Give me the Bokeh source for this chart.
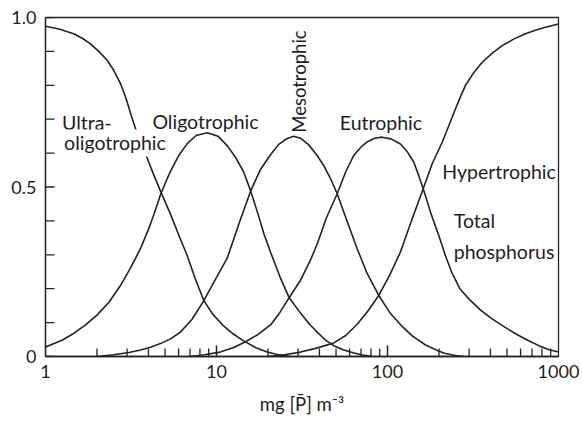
from bokeh.plotting import figure
from bokeh.models import FixedTicker, Label, Range1d, CustomJSTickFormatter
from bokeh.embed import file_html
from bokeh.resources import INLINE

# Total phosphorus (mg m-3) and the probability of each trophic category
ultra_x = [1, 1.2, 1.46, 1.65, 1.83, 2.05, 2.3, 2.5, 2.75, 2.95, 3.14, 3.4, 3.65, 3.9, 4.3, 4.71,
           5.38, 6.0, 6.74, 7.5, 8.43, 9.5, 11.0, 12.5, 14.4, 17.0, 19.8, 23.0, 27.0]
ultra_y = [0.974, 0.966, 0.952, 0.938, 0.922, 0.900, 0.873, 0.845, 0.804, 0.763, 0.718, 0.664, 0.628, 0.590, 0.535, 0.487,
           0.420, 0.360, 0.298, 0.230, 0.165, 0.125, 0.090, 0.067, 0.046, 0.026, 0.013, 0.005, 0.0]

oligo_x = [1, 1.25, 1.46, 1.7, 2.0, 2.35, 2.75, 3.15, 3.59, 4.0, 4.3, 4.71, 5.1, 5.38, 6.0, 6.74, 7.6,
           8.83, 10.2, 11.55, 12.9, 14.4, 15.8, 17.5, 19.0, 20.7, 23.5, 26.5, 31, 35, 38.8, 43, 48.5,
           55, 60.8, 70, 82]
oligo_y = [0.028, 0.048, 0.068, 0.092, 0.122, 0.160, 0.210, 0.262, 0.318, 0.375, 0.418, 0.478, 0.520, 0.546, 0.592, 0.628, 0.652,
           0.660, 0.650, 0.622, 0.588, 0.545, 0.490, 0.420, 0.360, 0.308, 0.235, 0.175, 0.128, 0.095, 0.072, 0.050, 0.032,
           0.020, 0.013, 0.005, 0.0]

meso_x = [2.0, 2.5, 3.07, 3.6, 4.11, 4.7, 5.38, 6.15, 7.2, 8.43, 9.8, 11.55, 13.5, 15.8, 18.0, 20.7, 23.0,
          25.9, 28.3, 31, 34.5, 38.8, 42.5, 46.4, 50.8, 57, 66.5, 76, 88.9, 103, 120, 140, 167, 195,
          218, 250, 280]
meso_y = [0.0, 0.005, 0.012, 0.019, 0.027, 0.038, 0.052, 0.072, 0.110, 0.165, 0.225, 0.290, 0.390, 0.487, 0.550, 0.595, 0.625,
          0.643, 0.650, 0.644, 0.625, 0.593, 0.562, 0.525, 0.480, 0.410, 0.318, 0.245, 0.180, 0.130, 0.092, 0.060, 0.034, 0.018,
          0.009, 0.003, 0.0]

eutro_x = [7.0, 8.5, 10.5, 12.5, 14.6, 17.5, 20.7, 23.5, 26.5, 31, 35.5, 38.8, 44, 50.8, 57, 63.5, 70, 76, 84,
           93, 105, 119, 131, 142.5, 152, 163, 180, 199.5, 218, 239, 265, 299, 350, 409, 480, 561,
           660, 767, 880, 1000]
eutro_y = [0.0, 0.005, 0.013, 0.026, 0.042, 0.065, 0.093, 0.130, 0.172, 0.225, 0.285, 0.332, 0.410, 0.480, 0.545, 0.593, 0.618, 0.633, 0.644,
           0.647, 0.642, 0.627, 0.603, 0.573, 0.535, 0.490, 0.420, 0.357, 0.298, 0.245, 0.200, 0.170, 0.137, 0.111, 0.088, 0.067,
           0.048, 0.032, 0.020, 0.013]

hyper_x = [20, 25, 31, 38, 48.5, 57, 66.5, 77, 88.9, 103, 119, 138, 159.6, 183, 209, 230, 250, 268, 286,
           320, 358, 410, 469, 550, 641, 740, 839, 1000]
hyper_y = [0.0, 0.005, 0.013, 0.024, 0.040, 0.062, 0.095, 0.135, 0.180, 0.240, 0.308, 0.400, 0.487, 0.570, 0.632, 0.685, 0.731, 0.768, 0.800,
           0.838, 0.868, 0.895, 0.917, 0.937, 0.952, 0.963, 0.971, 0.981]

curves = [(ultra_x, ultra_y), (oligo_x, oligo_y), (meso_x, meso_y),
          (eutro_x, eutro_y), (hyper_x, hyper_y)]

x_major = [1, 10, 100, 1000]
x_minor = [m * d for d in (1, 10, 100) for m in range(2, 10)]
y_major = [0, 0.5, 1.0]
y_minor = [0.1, 0.2, 0.3, 0.4, 0.6, 0.7, 0.8, 0.9]

INK = "#222222"
TEXT = "#1e1e1e"
FONT = "Lato"

FRAME_W, FRAME_H = 513, 339          # plot frame size in px
X_DECADES = 3.0

p = figure(width=582, height=427, x_axis_type="log",
           x_range=Range1d(1, 1000), y_range=Range1d(0, 1),
           output_backend="svg", toolbar_location=None,
           min_border_left=45, min_border_right=24,
           min_border_top=17, min_border_bottom=71)
p.background_fill_color = "white"
p.border_fill_color = "white"
p.grid.visible = False
p.outline_line_color = INK
p.outline_line_width = 1.3

for xs, ys in curves:
    p.line(xs, ys, line_color=INK, line_width=1.6)

# inward tick marks, drawn inside the frame from the tick lists
def y_len(px):
    return px / FRAME_H

def x_fac(px):
    return 10 ** (px * X_DECADES / FRAME_W)

inner_major = x_major[1:-1]
p.segment(x0=inner_major, x1=inner_major, y0=[0] * len(inner_major),
          y1=[y_len(11)] * len(inner_major), line_color=INK, line_width=1.5)
p.segment(x0=x_minor, x1=x_minor, y0=[0] * len(x_minor),
          y1=[y_len(8)] * len(x_minor), line_color=INK, line_width=1.3)
p.segment(x0=[1] * len(y_major), x1=[x_fac(9)] * len(y_major), y0=y_major,
          y1=y_major, line_color=INK, line_width=1.5)
p.segment(x0=[1] * len(y_minor), x1=[x_fac(9)] * len(y_minor), y0=y_minor,
          y1=y_minor, line_color=INK, line_width=1.3)

for ax in (p.xaxis[0], p.yaxis[0]):
    ax.axis_line_color = INK
    ax.axis_line_width = 1.3
    ax.major_tick_line_color = None
    ax.minor_tick_line_color = None
    ax.major_tick_out = 0
    ax.minor_tick_out = 0
    ax.major_label_text_font = FONT
    ax.major_label_text_font_size = "18px"
    ax.major_label_text_color = TEXT

p.xaxis.ticker = FixedTicker(ticks=x_major, minor_ticks=x_minor)
p.xaxis.major_label_standoff = 8
p.xaxis.formatter = CustomJSTickFormatter(code="return Math.round(tick).toString();")
p.xaxis.axis_label = "mg [P\u0304] m\u207b\u00b3"
p.xaxis.axis_label_text_font = FONT
p.xaxis.axis_label_text_font_style = "normal"
p.xaxis.axis_label_text_font_size = "18.5px"
p.xaxis.axis_label_text_color = TEXT
p.xaxis.axis_label_standoff = 12

p.yaxis.ticker = FixedTicker(ticks=y_major, minor_ticks=y_minor)
p.yaxis.major_label_standoff = 9
p.yaxis.formatter = CustomJSTickFormatter(code="return tick == 0 ? '0' : tick.toFixed(1);")

# category names
def name(text, x, y, angle=0, bg=None, size="19.5px"):
    lab = Label(x=x, y=y, text=text, angle=angle, text_font=FONT,
                text_font_size=size, text_color=TEXT,
                text_align="left", text_baseline="alphabetic")
    if bg:
        lab.background_fill_color = bg
        lab.padding = 2
    p.add_layout(lab)

name("Ultra-", 1.25, 0.691)
name("oligotrophic", 1.25, 0.630, bg="white")
name("Oligotrophic", 4.22, 0.692)
name("Mesotrophic", 30.4, 0.660, angle=1.5708, size="18.5px")
name("Eutrophic", 52.6, 0.690)
name("Hypertrophic", 209, 0.547)
name("Total", 244, 0.401)
name("phosphorus", 244, 0.311)

open("out.html", "w").write(file_html(p, INLINE))
